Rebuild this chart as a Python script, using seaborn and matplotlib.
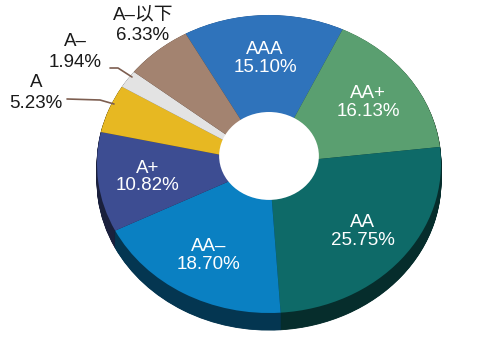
import numpy as np
import matplotlib
matplotlib.use("Agg")
import matplotlib.pyplot as plt
from matplotlib.patches import Ellipse
import matplotlib.colors as mcolors
import seaborn as sns

# Rating distribution
ratings = ["AAA", "AA+", "AA", "AA–", "A+", "A", "A–", "A–以下"]
shares = [15.10, 16.13, 25.75, 18.70, 10.82, 5.23, 1.94, 6.33]
colors = ["#2f73bb", "#5a9f70", "#0e6a68", "#0a80c2", "#3d4d92", "#e7b822", "#e3e3e3", "#a38370"]

sns.set_theme(style="white")
plt.rcParams["font.family"] = ["Liberation Sans", "Noto Sans CJK SC", "DejaVu Sans"]

W, H = 504, 337
fig = plt.figure(figsize=(W / 100, H / 100), dpi=100)
ax = fig.add_axes([0, 0, 1, 1])

# pixel geometry of the tilted disc
cx, cy = 269, 164          # centre of top face (px from left / top)
sx, sy = 172.0, 149.0      # px per unit in x / y


def frame_axes():
    ax.set_xlim(-cx / sx, (W - cx) / sx)
    ax.set_ylim(-(H - cy) / sy, cy / sy)
    ax.set_aspect("auto")
    ax.axis("off")


start = 119
palette = sns.color_palette(colors)

# side of the disc: stacked darker copies pushed downwards
depth = 0.115
side_cols = [tuple(np.array(mcolors.to_rgb(c)) * 0.42) for c in colors]
for k in np.linspace(depth, 0.004, 30):
    ws, _ = ax.pie(shares, colors=side_cols, startangle=start, counterclock=False,
                   radius=1.0, center=(0, -k), frame=True,
                   wedgeprops=dict(linewidth=0.6))
    for w, c in zip(ws, side_cols):
        w.set_edgecolor(c)

# top face
wedges, _ = ax.pie(shares, colors=palette, startangle=start, counterclock=False,
                   radius=1.0, center=(0, 0), frame=True,
                   wedgeprops=dict(linewidth=0))
frame_axes()

# centre hole
ax.add_patch(Ellipse((0, 0.054), width=0.58, height=0.59, facecolor="white",
                     edgecolor="none", zorder=5))

# in-slice labels
cum = np.cumsum([0] + shares)
fs = 13.5
for i in range(5):
    mid = np.deg2rad(start - (cum[i] + shares[i] / 2) * 3.6)
    r = 0.71
    ax.text(r * np.cos(mid), r * np.sin(mid), f"{ratings[i]}\n{shares[i]:.2f}%",
            ha="center", va="center", color="white", fontsize=fs,
            linespacing=1.05, zorder=6)


def px(x, y):
    return (x - cx) / sx, (cy - y) / sy


# outside labels for the small slices
line_col = "#7d5e50"
outer = {5: (36, 93), 6: (75, 52), 7: (143, 25)}
for i, (x, y) in outer.items():
    ax.text(*px(x, y), f"{ratings[i]}\n{shares[i]:.2f}%", ha="center", va="center",
            color="#1a1a1a", fontsize=fs, linespacing=1.25, zorder=6)

lx, ly = zip(*[px(110, 68), px(118, 68), px(132, 77)])
ax.plot(lx, ly, color=line_col, lw=1.2, zorder=6)
lx, ly = zip(*[px(67, 99), px(100, 100), px(114, 104)])
ax.plot(lx, ly, color=line_col, lw=1.2, zorder=6)

frame_axes()
fig.savefig("out.png", dpi=100)
